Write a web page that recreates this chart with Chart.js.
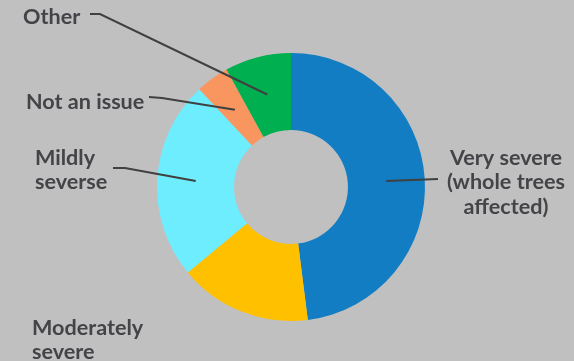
<!DOCTYPE html>
<html>
<head>
<meta charset="utf-8">
<script src="https://cdn.jsdelivr.net/npm/chart.js@4/dist/chart.umd.min.js"></script>
<style>
  html, body { margin: 0; padding: 0; background: #c0c0c0; }
  #wrap { width: 574px; height: 361px; }
</style>
</head>
<body>
<div id="wrap"><canvas id="myChart-severity" width="574" height="361"></canvas></div>
<script>
// data
const categories = [
    ['Very severe', '(whole trees', 'affected)'],
    ['Moderately', 'severe'],
    ['Mildly', 'severse'],
    ['Not an issue'],
    ['Other']
];
const shares = [48, 16, 24, 4, 8];
const sliceColors = ['#127dc2', '#ffc000', '#6eedfe', '#f9955f', '#00af4f'];

// where each label sits and how its leader line bends
const labelSpots = [
    { x: 506, y: 158, align: 'center', line: [[438, 179]] },
    { x: 32, y: 328, align: 'left', line: null },
    { x: 35, y: 158, align: 'left', line: [[113, 168], [125, 168]] },
    { x: 26, y: 102, align: 'left', line: [[149, 97], [162, 98]] },
    { x: 23, y: 17, align: 'left', line: [[90, 14], [100, 14]] }
];

const outsideLabels = {
    id: 'outsideLabels',
    afterDatasetsDraw(chart) {
        const c = chart.ctx;
        const arcs = chart.getDatasetMeta(0).data;
        c.save();
        c.strokeStyle = '#404040';
        c.lineWidth = 2;
        arcs.forEach((arc, i) => {
            const spot = labelSpots[i];
            if (!spot.line) return;
            const p = arc.getCenterPoint();
            c.beginPath();
            c.moveTo(spot.line[0][0], spot.line[0][1]);
            for (let k = 1; k < spot.line.length; k++) c.lineTo(spot.line[k][0], spot.line[k][1]);
            c.lineTo(p.x, p.y);
            c.stroke();
        });
        c.fillStyle = '#444448';
        c.font = 'bold 21.6px Lato';
        c.textBaseline = 'middle';
        categories.forEach((lines, i) => {
            const spot = labelSpots[i];
            c.textAlign = spot.align;
            lines.forEach((t, k) => c.fillText(t, spot.x, spot.y + k * 24.5));
        });
        c.restore();
    }
};

const ctx = document.getElementById('myChart-severity').getContext('2d');
const myChart = new Chart(ctx, {
    type: 'doughnut',
    data: {
        labels: categories.map(l => l.join(' ')),
        datasets: [{
            data: shares,
            backgroundColor: sliceColors,
            borderWidth: 0
        }]
    },
    options: {
        responsive: false,
        animation: false,
        cutout: '42.5%',
        layout: { padding: { left: 157, right: 149, top: 53, bottom: 40 } },
        plugins: {
            legend: { display: false },
            tooltip: { enabled: false }
        }
    },
    plugins: [outsideLabels]
});
</script>
</body>
</html>
